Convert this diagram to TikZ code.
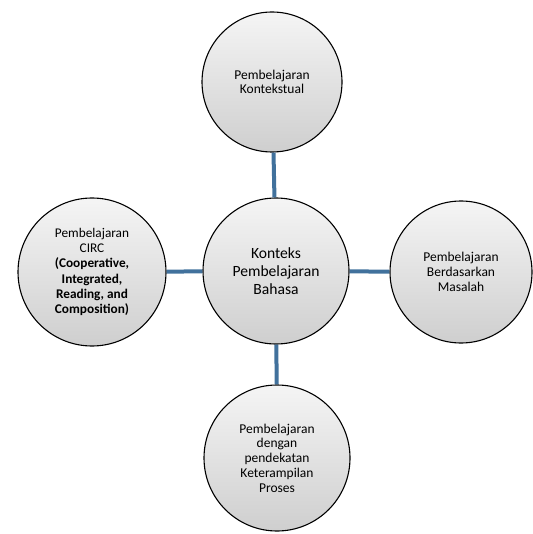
\documentclass[tikz,border=0pt]{standalone}
\usepackage{fontspec}
\setmainfont{Carlito}
\usepackage{tikz}

\definecolor{linkblue}{HTML}{41719C}

\begin{document}
\begin{tikzpicture}[%
					x=1pt, y=-1pt,
					every node/.style={%
						align=center,
						circle,
						draw=black,
						line width=1.1pt,
						top color=gray!8,
						bottom color=gray!38,
						inner sep=0pt
					},
					link/.style={%
						draw=linkblue,
						line width=4pt
					}
				]

				% page frame
				\useasboundingbox (0, 0) rectangle (532, 534);

				\node (konteks) [minimum size=146pt, font=\fontsize{15.6}{18}\selectfont] at (276, 271) {%
					Konteks\\
					Pembelajaran\\
					Bahasa
				};

				\node (kontekstual) [minimum size=140pt, font=\fontsize{13.5}{14.7}\selectfont] at (272, 82) {%
					Pembelajaran\\
					Kontekstual
				};

				\node (circ) [minimum size=148pt, font=\fontsize{13.3}{15.3}\selectfont] at (92, 272) {%
					Pembelajaran\\
					CIRC\\
					\textbf{(Cooperative,}\\
					\textbf{Integrated,}\\
					\textbf{Reading, and}\\
					\textbf{Composition)}
				};

				\node (masalah) [minimum size=142pt, font=\fontsize{13.5}{14.7}\selectfont] at (461, 272) {%
					Pembelajaran\\
					Berdasarkan\\
					Masalah
				};

				\node (proses) [minimum size=146pt, font=\fontsize{13.5}{14.7}\selectfont] at (277, 458) {%
					Pembelajaran\\
					dengan\\
					pendekatan\\
					Keterampilan\\
					Proses
				};

				\draw[link] (kontekstual) -- (konteks);
				\draw[link] (circ) -- (konteks);
				\draw[link] (masalah) -- (konteks);
				\draw[link] (proses) -- (konteks);

				% \node (refleksi) [draw] at (0, 600) {Refleksi};
			\end{tikzpicture}
\end{document}
